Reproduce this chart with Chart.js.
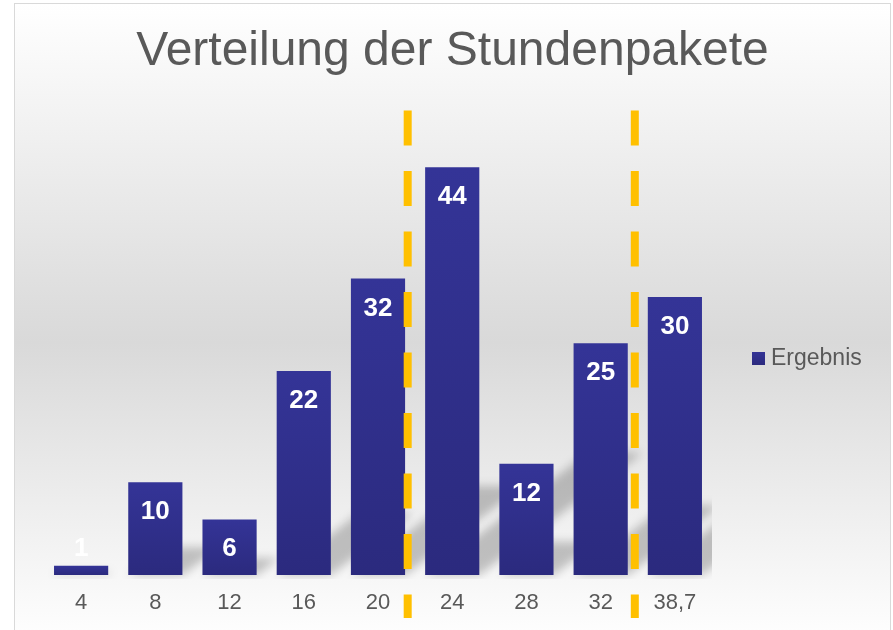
<!DOCTYPE html>
<html>
<head>
<meta charset="utf-8">
<script src="https://cdn.jsdelivr.net/npm/chart.js@4/dist/chart.umd.min.js"></script>
<style>
  html, body { margin: 0; padding: 0; background: #ffffff; width: 893px; height: 630px; overflow: hidden; }
  #frame { position: absolute; left: 14px; top: 3px; width: 877px; height: 640px; border: 1px solid #d9d9d9; box-sizing: border-box;
           background: linear-gradient(to bottom, #ffffff 0%, #d9d9d9 53%, #ffffff 100%); }
  #wrap { position: absolute; left: 15px; top: 4px; width: 875px; height: 626px; }
</style>
</head>
<body>
<div id="frame"></div>
<div id="wrap"><canvas id="c" width="875" height="626"></canvas></div>
<script>
// ---- data ----
const categories = ['4', '8', '12', '16', '20', '24', '28', '32', '38,7'];
const ergebnis = [1, 10, 6, 22, 32, 44, 12, 25, 30];
const seriesName = 'Ergebnis';
const chartTitle = 'Verteilung der Stundenpakete';
const markerPositions = [4.4, 7.46]; // dashed separators, in category-index units

const FONT = "'Liberation Sans', Arial, sans-serif";
const TEXT = '#595959';

function barGradient(c) {
  const chart = c.chart;
  if (!chart.chartArea || c.type !== 'data') return '#2f2e8a';
  const ys = chart.scales.y;
  const top = ys.getPixelForValue(c.raw);
  const base = ys.getPixelForValue(0);
  if (!isFinite(top) || !isFinite(base) || top === base) return '#2f2e8a';
  const g = chart.ctx.createLinearGradient(0, top, 0, base);
  g.addColorStop(0, '#343497');
  g.addColorStop(1, '#2b2a7e');
  return g;
}

const shadowPlugin = {
  id: 'barShadow',
  beforeDatasetsDraw(chart) {
    const ctx = chart.ctx, a = chart.chartArea;
    const meta = chart.getDatasetMeta(0);
    ctx.save();
    ctx.beginPath();
    ctx.rect(a.left, a.top, a.right - a.left, a.bottom - a.top + 4);
    ctx.clip();
    ctx.filter = 'blur(5px)';
    ctx.fillStyle = 'rgba(0,0,0,0.22)';
    meta.data.forEach(el => {
      const h = el.base - el.y;
      const dy = h * 0.3;
      const dx = dy / 0.75;
      const x0 = el.x - el.width / 2, x1 = el.x + el.width / 2;
      ctx.beginPath();
      ctx.moveTo(x0, el.base);
      ctx.lineTo(x1, el.base);
      ctx.lineTo(x1 + dx, el.base - dy);
      ctx.lineTo(x0 + dx, el.base - dy);
      ctx.closePath();
      ctx.fill();
    });
    ctx.restore();
  },
  afterDatasetsDraw(chart) {
    const ctx = chart.ctx, a = chart.chartArea;
    const meta = chart.getDatasetMeta(0);
    // value labels
    ctx.save();
    ctx.fillStyle = '#ffffff';
    ctx.font = 'bold 26px ' + FONT;
    ctx.textAlign = 'center';
    ctx.textBaseline = 'middle';
    meta.data.forEach((el, i) => {
      const y = Math.min(el.y + 30, el.base - 26);
      ctx.fillText(String(ergebnis[i]), el.x, y);
    });
    ctx.restore();
    // dashed separators
    const xs = chart.scales.x;
    ctx.save();
    ctx.strokeStyle = '#FFC000';
    ctx.lineWidth = 8;
    ctx.setLineDash([35, 25.5]);
    markerPositions.forEach(v => {
      const x = xs.getPixelForValue(v);
      ctx.beginPath();
      ctx.moveTo(x, a.top - 1);
      ctx.lineTo(x, a.bottom + 43);
      ctx.stroke();
    });
    ctx.restore();
    // legend
    ctx.save();
    const lx = a.right + 40, ly = 354;
    const g = ctx.createLinearGradient(0, ly - 7, 0, ly + 7);
    g.addColorStop(0, '#343497'); g.addColorStop(1, '#2b2a7e');
    ctx.fillStyle = g;
    ctx.fillRect(lx, ly - 6, 13, 13);
    ctx.fillStyle = TEXT;
    ctx.font = '23px ' + FONT;
    ctx.textAlign = 'left';
    ctx.textBaseline = 'middle';
    ctx.fillText(seriesName, lx + 19, ly + 1);
    ctx.restore();
  }
};

new Chart(document.getElementById('c'), {
  type: 'bar',
  data: {
    labels: categories,
    datasets: [{
      label: seriesName,
      data: ergebnis,
      backgroundColor: barGradient,
      borderWidth: 0,
      barPercentage: 0.73,
      categoryPercentage: 1.0
    }]
  },
  options: {
    responsive: false,
    animation: false,
    devicePixelRatio: 1,
    layout: { padding: 0 },
    plugins: {
      legend: { display: false },
      tooltip: { enabled: false },
      title: {
        display: true,
        text: chartTitle,
        color: TEXT,
        font: { family: FONT, size: 48, weight: 'normal' },
        padding: { top: 19, bottom: 31 }
      }
    },
    scales: {
      x: {
        grid: { display: false, drawTicks: false },
        border: { display: false },
        ticks: { color: TEXT, font: { family: FONT, size: 22 }, padding: 15, maxRotation: 0, autoSkip: false },
        afterFit: s => { s.height = 55; }
      },
      y: {
        min: 0, max: 50,
        position: 'left',
        grid: { display: false, drawTicks: false },
        border: { display: false },
        ticks: { display: false },
        afterFit: s => { s.width = 29; }
      },
      yRight: {
        position: 'right',
        min: 0, max: 50,
        grid: { display: false, drawTicks: false },
        border: { display: false },
        ticks: { display: false },
        afterFit: s => { s.width = 178; }
      }
    }
  },
  plugins: [shadowPlugin]
});
</script>
</body>
</html>
